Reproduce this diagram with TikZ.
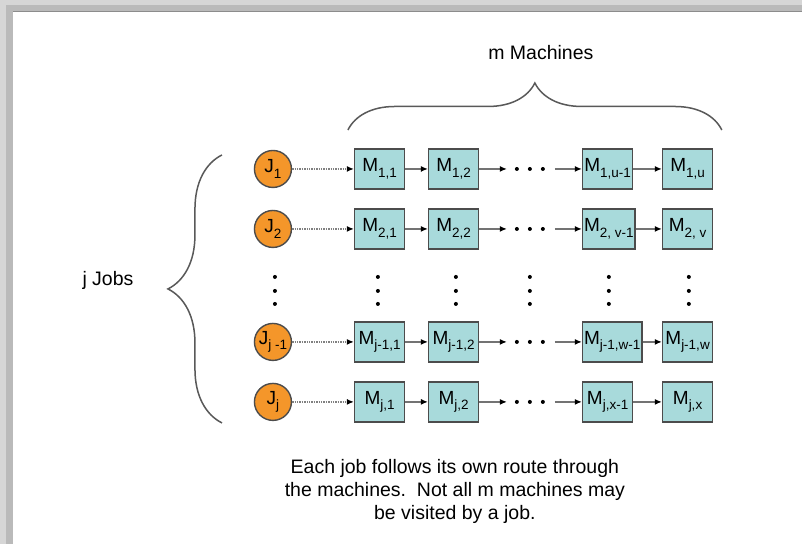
\documentclass[tikz,border=0pt]{standalone}
\usepackage{fontspec}
\setmainfont{Liberation Sans}
\usetikzlibrary{arrows.meta,decorations.pathreplacing}
\definecolor{joborange}{HTML}{F4962A}
\definecolor{machteal}{HTML}{A8DADB}
\newcommand\lowsub[1]{\raisebox{-0.55ex}{\fontsize{13.5}{13.5}\selectfont#1}}
\tikzset{job/.style={draw=black!70, line width=1.4pt, circle, fill=joborange, minimum size=37pt, inner sep=0pt, font=\fontsize{19}{19}\selectfont},
  mach/.style={draw=black!70, line width=1.5pt, fill=machteal, anchor=west, minimum width=50pt, minimum height=40pt, inner sep=1.5pt, font=\fontsize{19}{19}\selectfont},
  feed/.style={draw=black!50, line width=1.4pt, densely dotted, -{Latex[length=7pt, width=6pt, color=black]}},
  hop/.style={draw=black!55, line width=1.3pt, -{Latex[length=7pt, width=6pt, color=black]}},
  dotty/.style={circle, fill=black, inner sep=0pt, minimum size=4pt},
  brc/.style={draw=black!65, line width=1.5pt, decorate, decoration={brace, amplitude=#1}},
  lbl/.style={font=\fontsize{19.5}{23}\selectfont, align=center}}

\begin{document}
\begin{tikzpicture}[x=1pt, y=-1pt]
  % window edge
  \fill[black!16] (0,0) rectangle (802,544);
  \fill[black!27] (6,5) rectangle (802,544);
  \fill[white] (13,11) rectangle (802,544);
  \draw[black!45] (13,11) -- (802,11);
  % one row per job: job, first two machines, gap, last two machines
  \foreach \r/\y/\jl/\sa/\sb/\sc/\sd in {1/169/1/{1,1}/{1,2}/{1,u-1}/{1,u},
      2/229/2/{2,1}/{2,2}/{2, v-1}/{2, v},
      3/342/{j -1}/{j-1,1}/{j-1,2}/{j-1,w-1}/{j-1,w},
      4/402/j/{j,1}/{j,2}/{j,x-1}/{j,x}}{
    \node[job] (j\r) at (273,\y) {J\lowsub{\jl}};
    \node[mach] (ma\r) at (354,\y) {M\lowsub{\sa}};
    \node[mach] (mb\r) at (428,\y) {M\lowsub{\sb}};
    \node[mach] (mc\r) at (582,\y) {M\lowsub{\sc}};
    \node[mach] (md\r) at (662,\y) {M\lowsub{\sd}};
    \coordinate (g\r) at (507,\y);
    \coordinate (h\r) at (555,\y);
    \draw[feed] (j\r) -- (ma\r);
    \draw[hop] (ma\r) -- (mb\r);
    \draw[hop] (mb\r) -- (g\r);
    \draw[hop] (h\r) -- (mc\r);
    \draw[hop] (mc\r) -- (md\r);
    \foreach \x in {517,530,543} \node[dotty] at (\x,\y) {};
  }
  % skipped rows
  \foreach \x in {275,378,456,530,609,689}
    \foreach \y in {277,291,304} \node[dotty] at (\x,\y) {};
  % braces and labels
  \draw[brc=47pt] (348,130) -- (722,130);
  \draw[brc=54pt] (222,423) -- (222,155);
  \node[lbl] (mlab) at (541,53) {m Machines};
  \node[lbl] (jlab) at (108,281) {j Jobs};
  \node[lbl] (note) at (455,492) {Each job follows its own route through\\the machines.\ \ Not all m machines may\\be visited by a job.};
\end{tikzpicture}
\end{document}
